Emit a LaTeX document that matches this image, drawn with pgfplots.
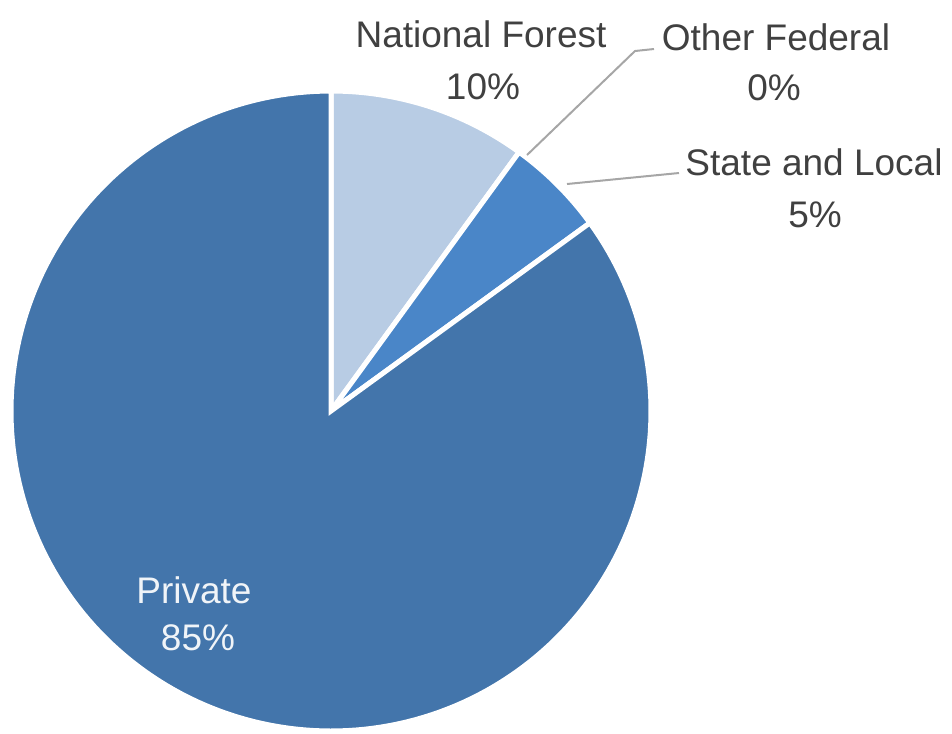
\documentclass[border=0pt]{standalone}
\usepackage{pgfplots}
\pgfplotsset{compat=1.18}
\usepgfplotslibrary{polar}
\usepackage{fontspec}
\setmainfont{Liberation Sans}

\definecolor{cPrivate}{HTML}{4375AB}
\definecolor{cState}{HTML}{4A86C8}
\definecolor{cForest}{HTML}{B8CCE4}
\definecolor{labelgray}{HTML}{404040}
\definecolor{leadergray}{HTML}{A6A6A6}

% shares in percent, clockwise from 12 o'clock:
% National Forest 10, Other Federal 0, State and Local 5, Private 85
\begin{document}
\begin{tikzpicture}
\begin{polaraxis}[
    at={(165.5pt,161pt)},
    anchor=center,
    width=320pt, height=320pt,
    scale only axis,
    hide axis,
    xmin=0, xmax=360,
    ymin=0, ymax=1,
    clip=false,
  ]
% National Forest 10%: 90 down to 90-3.6*10
\addplot[fill=cForest, draw=white, line width=2.5pt, domain={90-3.6*10}:90, samples=60]
  {1} -- (axis cs:0,0) -- cycle;
% State and Local 5%
\addplot[fill=cState, draw=white, line width=2.5pt, domain={54-3.6*5}:54, samples=40]
  {1} -- (axis cs:0,0) -- cycle;
% Private 85%
\addplot[fill=cPrivate, draw=white, line width=2.5pt, domain={36-3.6*85}:36, samples=200]
  {1} -- (axis cs:0,0) -- cycle;
\end{polaraxis}

% label layer, in pixel units of the reference
\begin{axis}[
    at={(0,0)}, anchor=south west,
    width=476pt, height=366.5pt,
    scale only axis,
    xmin=0, xmax=952, ymin=0, ymax=733,
    y dir=reverse,
    hide axis,
    clip=false,
  ]
\path (axis cs:0,0) rectangle (axis cs:952,733);
\draw[leadergray, line width=1pt] (axis cs:527,155) -- (axis cs:635,51) -- (axis cs:654,49);
\draw[leadergray, line width=1pt] (axis cs:567,184) -- (axis cs:679,173);
\begin{scope}[every node/.style={anchor=base, inner sep=0pt, font=\fontsize{18.5}{22}\selectfont, text=labelgray}]
\node at (axis cs:481,47) {National Forest};
\node at (axis cs:483,99) {10\%};
\node at (axis cs:776,50) {Other Federal};
\node at (axis cs:774,100) {0\%};
\node at (axis cs:814,175) {State and Local};
\node at (axis cs:815,227) {5\%};
\node[text=white!92!cPrivate] at (axis cs:194,603) {Private};
\node[text=white!92!cPrivate] at (axis cs:198,650) {85\%};
\end{scope}
\end{axis}
\end{tikzpicture}
\end{document}
